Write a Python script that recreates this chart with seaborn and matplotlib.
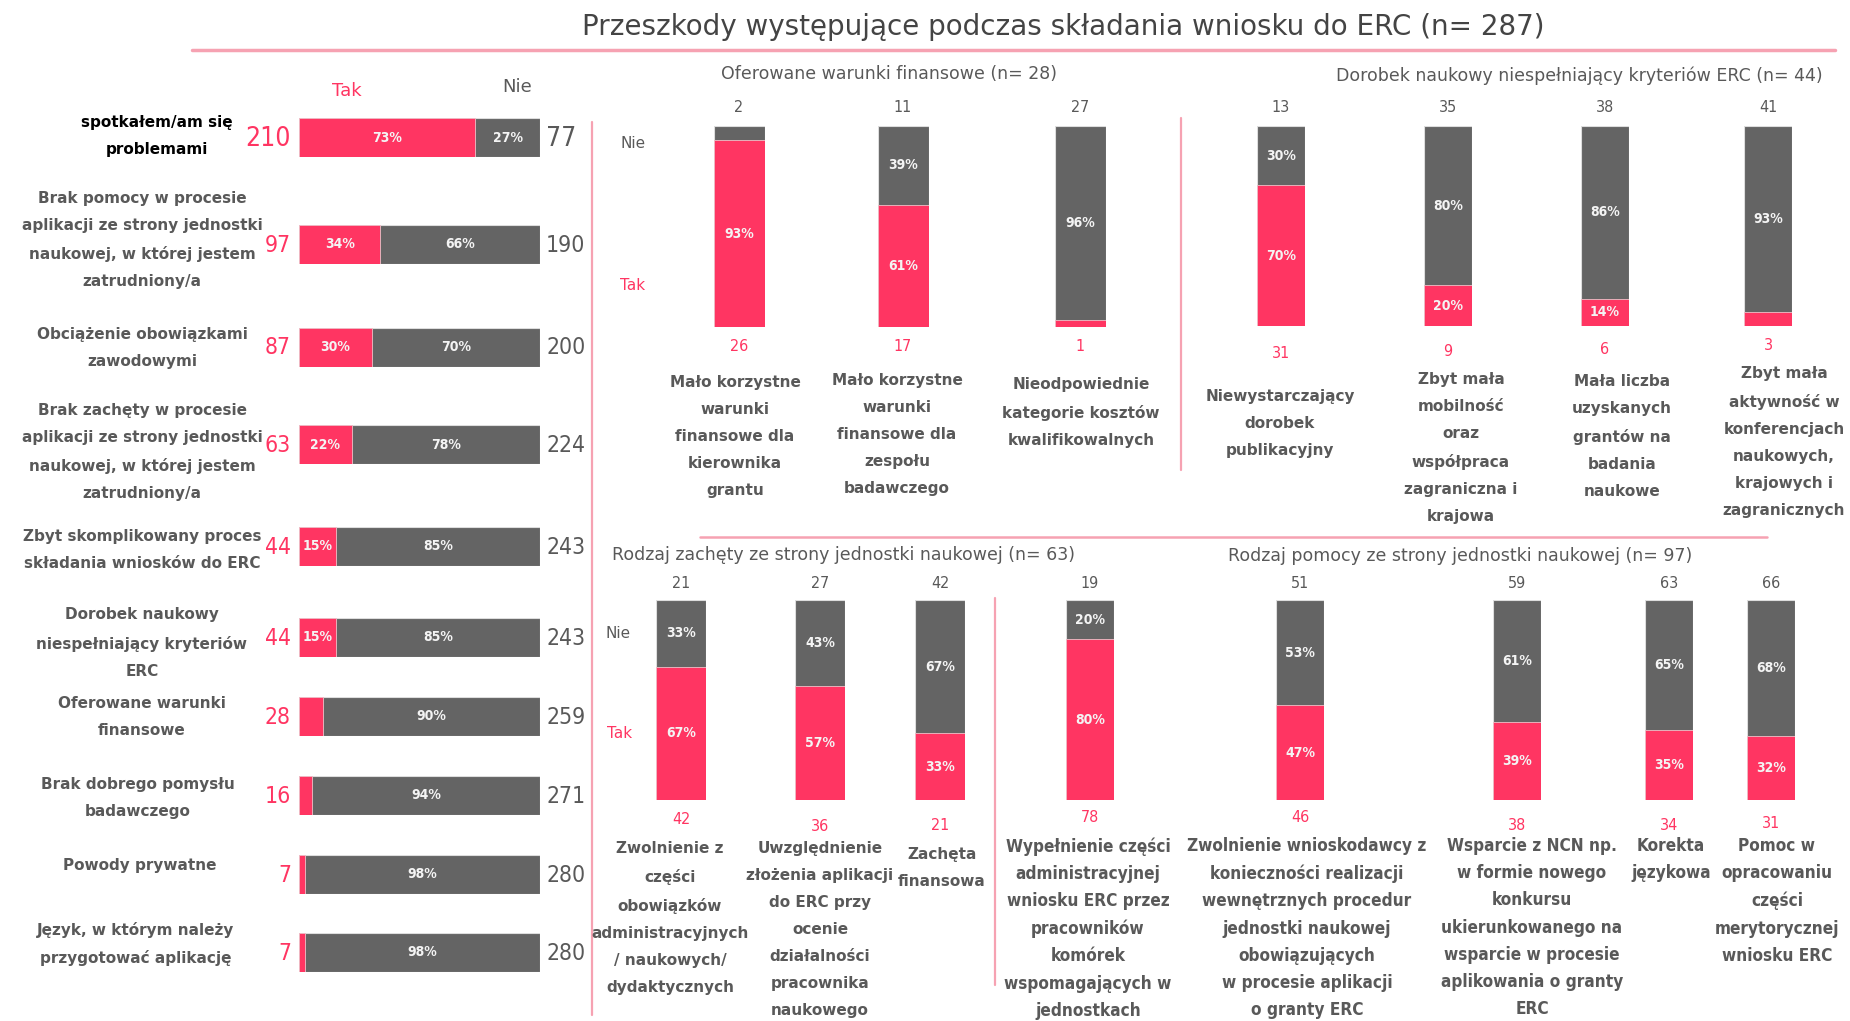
import matplotlib
matplotlib.use("Agg")
import matplotlib.pyplot as plt
import seaborn as sns
import pandas as pd

sns.set_theme(style="white")
plt.rcParams['font.family'] = ['DejaVu Sans']

PINK = "#ff3562"
GRAY = "#646464"
TXT = "#595959"
LINE = "#f6a2b2"

# ---- data ----
problems = ["spotkałem/am się\nproblemami",
            "Brak pomocy w procesie\naplikacji ze strony jednostki\nnaukowej, w której jestem\nzatrudniony/a",
            "Obciążenie obowiązkami\nzawodowymi",
            "Brak zachęty w procesie\naplikacji ze strony jednostki\nnaukowej, w której jestem\nzatrudniony/a",
            "Zbyt skomplikowany proces\nskładania wniosków do ERC",
            "Dorobek naukowy\nniespełniający kryteriów\nERC",
            "Oferowane warunki\nfinansowe",
            "Brak dobrego pomysłu\nbadawczego",
            "Powody prywatne",
            "Język, w którym należy\nprzygotować aplikację"]
problems_tak = [210, 97, 87, 63, 44, 44, 28, 16, 7, 7]
problems_nie = [77, 190, 200, 224, 243, 243, 259, 271, 280, 280]

fin_labels = ["Mało korzystne\nwarunki\nfinansowe dla\nkierownika\ngrantu",
              "Mało korzystne\nwarunki\nfinansowe dla\nzespołu\nbadawczego",
              "Nieodpowiednie\nkategorie kosztów\nkwalifikowalnych"]
fin_tak = [26, 17, 1]
fin_nie = [2, 11, 27]

dor_labels = ["Niewystarczający\ndorobek\npublikacyjny",
              "Zbyt mała\nmobilność\noraz\nwspółpraca\nzagraniczna i\nkrajowa",
              "Mała liczba\nuzyskanych\ngrantów na\nbadania\nnaukowe",
              "Zbyt mała\naktywność w\nkonferencjach\nnaukowych,\nkrajowych i\nzagranicznych"]
dor_tak = [31, 9, 6, 3]
dor_nie = [13, 35, 38, 41]

zach_labels = ["Zwolnienie z\nczęści\nobowiązków\nadministracyjnych\n/ naukowych/\ndydaktycznych",
               "Uwzględnienie\nzłożenia aplikacji\ndo ERC przy\nocenie\ndziałalności\npracownika\nnaukowego",
               "Zachęta\nfinansowa"]
zach_tak = [42, 36, 21]
zach_nie = [21, 27, 42]

pom_labels = ["Wypełnienie części\nadministracyjnej\nwniosku ERC przez\npracowników\nkomórek\nwspomagających w\njednostkach",
              "Zwolnienie wnioskodawcy z\nkonieczności realizacji\nwewnętrznych procedur\njednostki naukowej\nobowiązujących\nw procesie aplikacji\no granty ERC",
              "Wsparcie z NCN np.\nw formie nowego\nkonkursu\nukierunkowanego na\nwsparcie w procesie\naplikowania o granty\nERC",
              "Korekta\njęzykowa",
              "Pomoc w\nopracowaniu\nczęści\nmerytorycznej\nwniosku ERC"]
pom_tak = [78, 46, 38, 34, 31]
pom_nie = [19, 51, 59, 63, 66]

W, H = 1850, 1021
fig = plt.figure(figsize=(W / 100, H / 100), dpi=100)
fig.patch.set_facecolor("white")


def px_axes(x0, y0, x1, y1):
    return fig.add_axes([x0 / W, 1 - y1 / H, (x1 - x0) / W, (y1 - y0) / H])


def ftext(x, y, s, **kw):
    fig.text(x / W, 1 - y / H, s, **kw)


def hline(x0, x1, y, lw=2):
    fig.add_artist(plt.Line2D([x0 / W, x1 / W], [1 - y / H, 1 - y / H], color=LINE, lw=lw))


def vline(x, y0, y1, lw=1.6):
    fig.add_artist(plt.Line2D([x / W, x / W], [1 - y0 / H, 1 - y1 / H], color=LINE, lw=lw))


pct_kw = dict(color="#f4f4f4", fontsize=10, fontweight="bold", fontstretch="condensed",
              ha="center", va="center")
lab_kw = dict(color=TXT, fontsize=11, fontweight="bold", ha="center", va="top",
              multialignment="center", linespacing=2.0)
num_kw = dict(fontstretch="condensed", va="center")

# ---- title ----
ftext(1063, 27, "Przeszkody występujące podczas składania wniosku do ERC (n= 287)",
      fontsize=20, color="#444444", ha="center", va="center")
hline(192, 1835, 50, lw=2.5)

# ---- left panel: horizontal stacked bars ----
row_y = [138, 244, 347, 445, 546, 637, 716, 795, 874, 952]
lab_y = [136, 240, 348, 452, 550, 643, 717, 798, 865, 944]
lab_x = [157, 142, 142, 142, 142, 142, 142, 138, 140, 136]
bx0, bx1, bh = 299, 540, 39

ftext(347, 91, "Tak", color=PINK, fontsize=13, ha="center", va="center")
ftext(517, 87, "Nie", color=TXT, fontsize=13, ha="center", va="center")

for i, (lab, t, n) in enumerate(zip(problems, problems_tak, problems_nie)):
    pct = 100 * t / (t + n)
    cy = row_y[i]
    ax = px_axes(bx0, cy - bh / 2, bx1, cy + bh / 2)
    df = pd.DataFrame({"g": [lab], "all": [100.0], "tak": [pct]})
    sns.barplot(data=df, x="all", y="g", orient="h", color=GRAY, saturation=1,
                width=1, edgecolor="#dddddd", linewidth=0.8, ax=ax)
    sns.barplot(data=df, x="tak", y="g", orient="h", color=PINK, saturation=1,
                width=1, edgecolor="#f0c0c8", linewidth=0.6, ax=ax)
    ax.set_xlim(0, 100)
    ax.set_ylim(0.5, -0.5)
    ax.set_axis_off()
    if pct >= 12:
        ax.text(pct / 2, 0, f"{pct:.0f}%", **pct_kw)
    if 100 - pct >= 12:
        ax.text(pct + (100 - pct) / 2, 0, f"{100 - pct:.0f}%", **pct_kw)
    big = 19 if i == 0 else 16.5
    ftext(291, cy + 1, str(t), color=PINK, fontsize=big, ha="right", **num_kw)
    ftext(546, cy + 1, str(n), color=TXT, fontsize=big, ha="left", **num_kw)
    kw = dict(lab_kw)
    kw.update(va="center")
    if i == 0:
        kw["color"] = "black"
    ftext(lab_x[i], lab_y[i], lab, **kw)


# ---- vertical panels ----
def vpanel(labels, tak, nie, centers, width, top, bottom, top_y, bot_y, lab_x, lab_y, lab_style):
    for i, (lab, t, n) in enumerate(zip(labels, tak, nie)):
        pct = 100 * t / (t + n)
        cx = centers[i]
        ax = px_axes(cx - width / 2, top, cx + width / 2, bottom)
        df = pd.DataFrame({"g": [lab], "all": [100.0], "tak": [pct]})
        sns.barplot(data=df, x="g", y="all", color=GRAY, saturation=1,
                    width=1, edgecolor="#dddddd", linewidth=0.8, ax=ax)
        sns.barplot(data=df, x="g", y="tak", color=PINK, saturation=1,
                    width=1, edgecolor="#f0c0c8", linewidth=0.6, ax=ax)
        ax.set_ylim(0, 100)
        ax.set_xlim(-0.5, 0.5)
        ax.set_axis_off()
        if pct >= 12:
            ax.text(0, pct / 2, f"{pct:.0f}%", **pct_kw)
        if 100 - pct >= 12:
            ax.text(0, pct + (100 - pct) / 2, f"{100 - pct:.0f}%", **pct_kw)
        ftext(cx, top_y, str(n), color=TXT, fontsize=11.5, ha="center", **num_kw)
        ftext(cx, bot_y[i], str(t), color=PINK, fontsize=11.5, ha="center", **num_kw)
        ftext(lab_x[i], lab_y[i] - 6, lab, **lab_style)


# top-middle: Oferowane warunki finansowe
ftext(889, 74, "Oferowane warunki finansowe (n= 28)", color=TXT, fontsize=12.5,
      ha="center", va="center")
ftext(633, 143, "Nie", color=TXT, fontsize=11, ha="center", va="center")
ftext(633, 286, "Tak", color=PINK, fontsize=11, ha="center", va="center")
vpanel(fin_labels, fin_tak, fin_nie, [739, 903, 1080], 51, 126, 327, 107,
       [346, 346, 346], [735, 897, 1081], [381, 379, 383], lab_kw)

# top-right: Dorobek naukowy
ftext(1579, 76, "Dorobek naukowy niespełniający kryteriów ERC (n= 44)", color=TXT,
      fontsize=12.5, ha="center", va="center")
vpanel(dor_labels, dor_tak, dor_nie, [1281, 1448, 1605, 1768], 48, 126, 326, 107,
       [353, 352, 349, 345], [1280, 1461, 1622, 1784], [395, 378, 380, 372], lab_kw)

# bottom-left: Rodzaj zachęty
ftext(844, 555, "Rodzaj zachęty ze strony jednostki naukowej (n= 63)", color=TXT,
      fontsize=12.5, ha="center", va="center")
ftext(618, 634, "Nie", color=TXT, fontsize=11, ha="center", va="center")
ftext(620, 733, "Tak", color=PINK, fontsize=11, ha="center", va="center")
vpanel(zach_labels, zach_tak, zach_nie, [681, 820, 940], 50, 600, 800, 583,
       [819, 826, 825], [670, 820, 942], [847, 847, 853], lab_kw)

# bottom-right: Rodzaj pomocy (narrower type in the original)
ftext(1460, 556, "Rodzaj pomocy ze strony jednostki naukowej (n= 97)", color=TXT,
      fontsize=12.5, ha="center", va="center")
narrow_kw = dict(lab_kw)
narrow_kw.update(fontsize=12.3, fontstretch="condensed", linespacing=1.66)
vpanel(pom_labels, pom_tak, pom_nie, [1090, 1300, 1517, 1669, 1771], 48, 600, 800, 583,
       [818, 818, 825, 825, 823], [1088, 1307, 1532, 1671, 1777], [843, 843, 843, 843, 843],
       narrow_kw)

# ---- separators ----
vline(592, 122, 1015)
vline(1181, 118, 470)
vline(995, 598, 985)
hline(700, 1767, 537, lw=1.8)

fig.savefig("out.png", dpi=100, facecolor="white")
